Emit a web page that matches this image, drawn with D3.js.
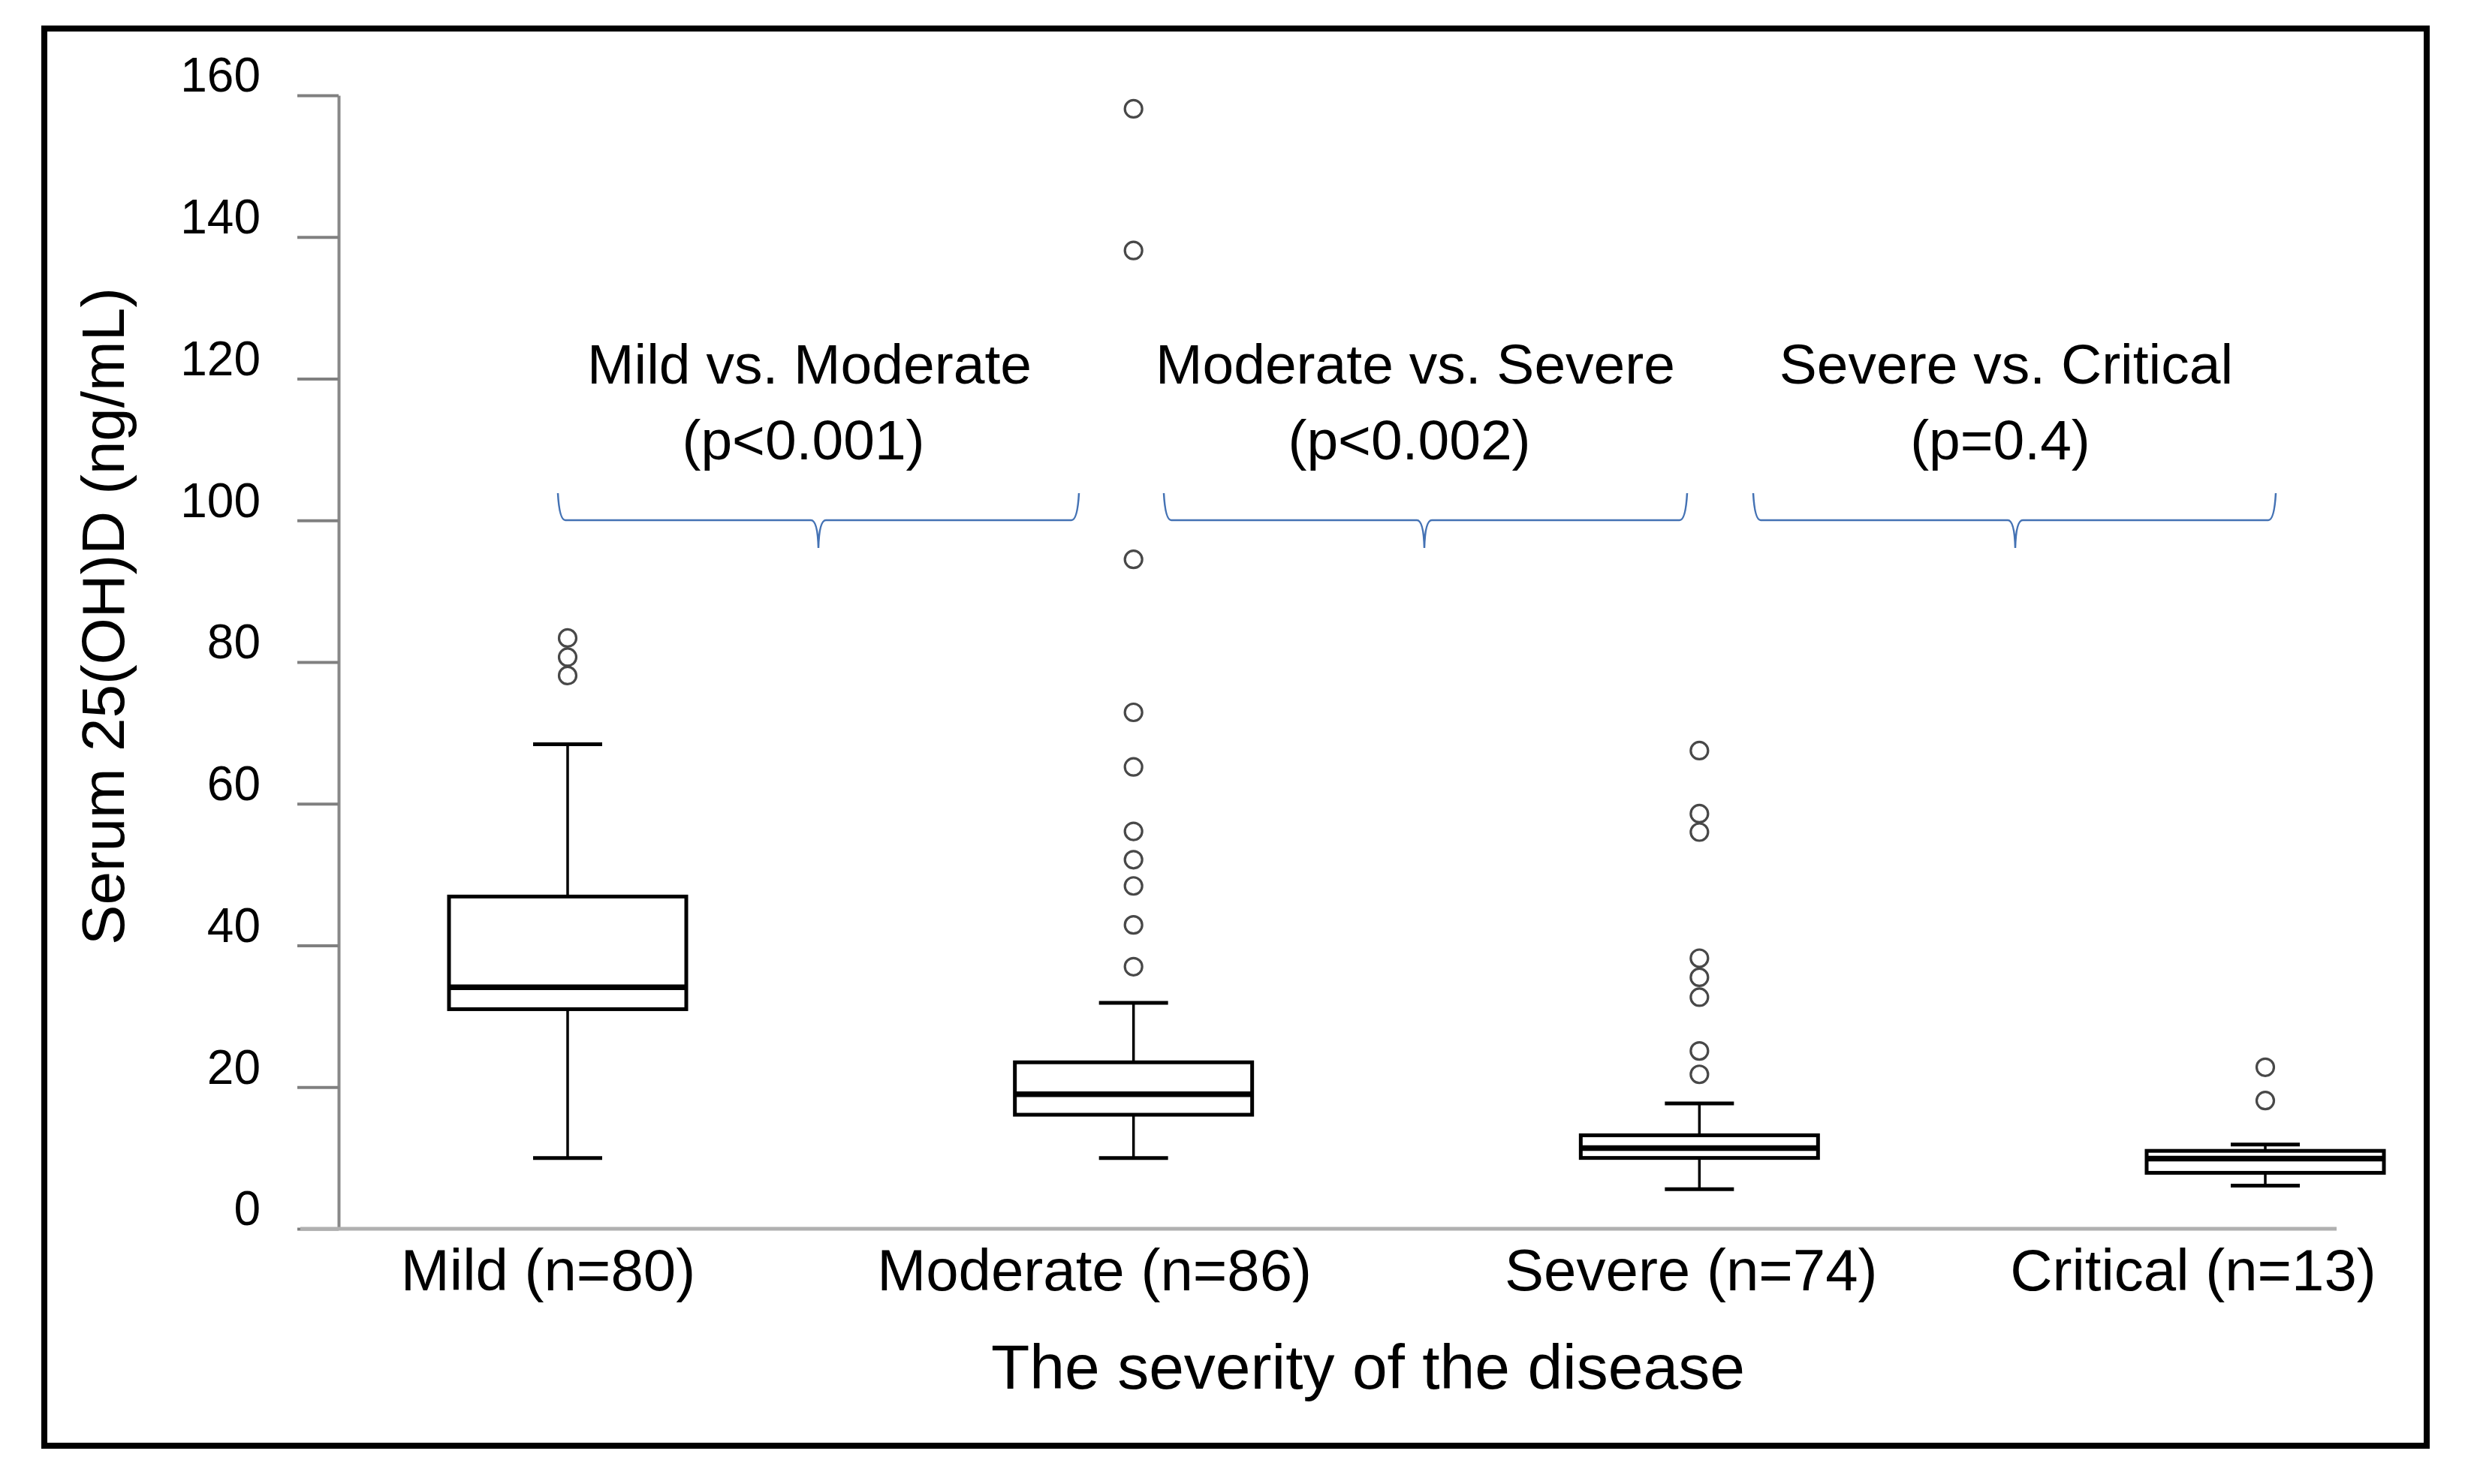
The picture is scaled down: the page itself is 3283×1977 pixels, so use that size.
<!DOCTYPE html>
<html>
<head>
<meta charset="utf-8">
<script src="https://cdn.jsdelivr.net/npm/d3@7"></script>
<style>
  html, body { margin: 0; padding: 0; background: #fff; }
  svg text { font-family: "Liberation Sans", Arial, Helvetica, sans-serif; fill: #000; }
</style>
</head>
<body>
<svg id="chart" width="3283" height="1977"></svg>
<script>
// values (ng/mL)
var categories = ['Mild', 'Moderate', 'Severe', 'Critical'];
var counts = [80, 86, 74, 13];
var whiskerLow = [10, 10, 5.6, 6.1];
var q1 = [31, 16.1, 10.0, 7.9];
var median = [34.1, 19.0, 11.4, 9.9];
var q3 = [46.9, 23.5, 13.2, 11.0];
var whiskerHigh = [68.4, 31.9, 17.7, 11.9];
var outliers = [
  [83.4, 80.7, 78.1],
  [158.1, 138.1, 94.5, 72.9, 65.2, 56.1, 52.1, 48.4, 42.9, 37.0],
  [67.5, 58.6, 56.0, 38.2, 35.5, 32.7, 25.1, 21.8],
  [22.8, 18.1]
];
var yTicks = [0, 20, 40, 60, 80, 100, 120, 140, 160];
var comparisons = ['Mild vs. Moderate', 'Moderate vs. Severe', 'Severe vs. Critical'];
var pValues = ['(p<0.001)', '(p<0.002)', '(p=0.4)'];

var svg = d3.select('#chart');

var BOX_W = 316, CAP_W = 92;
var labelShift = [-26, -52, -11, -96];

var y = d3.scaleLinear().domain([0, 160]).range([1637, 127]);
var x = d3.scalePoint().domain(categories).range([756, 3017]);

// outer frame
svg.append('rect')
  .attr('x', 59).attr('y', 38)
  .attr('width', 3232 - 59).attr('height', 1926 - 38)
  .attr('fill', '#fff')
  .attr('stroke', '#000')
  .attr('stroke-width', 8);

// y axis
var yAxis = svg.append('g')
  .attr('transform', 'translate(451,0)')
  .call(d3.axisLeft(y).tickValues(yTicks).tickSize(55).tickPadding(49).tickSizeOuter(0));
yAxis.select('.domain').attr('stroke', '#888').attr('stroke-width', 4);
yAxis.selectAll('.tick line').attr('stroke', '#808080').attr('stroke-width', 4);
yAxis.selectAll('.tick text')
  .attr('font-size', 64)
  .attr('dy', '-0.08em')
  .attr('fill', '#000');

// x axis line
svg.append('line')
  .attr('x1', 400).attr('x2', 3112)
  .attr('y1', y(0)).attr('y2', y(0))
  .attr('stroke', '#b0b0b0')
  .attr('stroke-width', 5);

// category labels
svg.append('g').selectAll('text')
  .data(categories)
  .join('text')
  .attr('x', function (d, i) { return x(d) + labelShift[i]; })
  .attr('y', 1719)
  .attr('text-anchor', 'middle')
  .attr('font-size', 78)
  .text(function (d, i) { return d + ' (n=' + counts[i] + ')'; });

// axis titles
svg.append('text')
  .attr('x', 1822).attr('y', 1850)
  .attr('text-anchor', 'middle')
  .attr('font-size', 84)
  .text('The severity of the disease');

svg.append('text')
  .attr('transform', 'translate(165,821) rotate(-90)')
  .attr('text-anchor', 'middle')
  .attr('font-size', 80)
  .text('Serum 25(OH)D (ng/mL)');

// boxes
var box = svg.append('g').selectAll('g')
  .data(categories)
  .join('g');

box.append('line')
  .attr('x1', function (d) { return x(d); })
  .attr('x2', function (d) { return x(d); })
  .attr('y1', function (d, i) { return y(whiskerLow[i]); })
  .attr('y2', function (d, i) { return y(q1[i]); })
  .attr('stroke', '#000').attr('stroke-width', 3.5);

box.append('line')
  .attr('x1', function (d) { return x(d); })
  .attr('x2', function (d) { return x(d); })
  .attr('y1', function (d, i) { return y(q3[i]); })
  .attr('y2', function (d, i) { return y(whiskerHigh[i]); })
  .attr('stroke', '#000').attr('stroke-width', 3.5);

[whiskerLow, whiskerHigh].forEach(function (arr) {
  box.append('line')
    .attr('x1', function (d) { return x(d) - CAP_W / 2; })
    .attr('x2', function (d) { return x(d) + CAP_W / 2; })
    .attr('y1', function (d, i) { return y(arr[i]); })
    .attr('y2', function (d, i) { return y(arr[i]); })
    .attr('stroke', '#000').attr('stroke-width', 5);
});

box.append('rect')
  .attr('x', function (d) { return x(d) - BOX_W / 2; })
  .attr('y', function (d, i) { return y(q3[i]); })
  .attr('width', BOX_W)
  .attr('height', function (d, i) { return y(q1[i]) - y(q3[i]); })
  .attr('fill', '#fff')
  .attr('stroke', '#000')
  .attr('stroke-width', 5);

box.append('line')
  .attr('x1', function (d) { return x(d) - BOX_W / 2; })
  .attr('x2', function (d) { return x(d) + BOX_W / 2; })
  .attr('y1', function (d, i) { return y(median[i]); })
  .attr('y2', function (d, i) { return y(median[i]); })
  .attr('stroke', '#000').attr('stroke-width', 7.5);

// outliers
box.each(function (d, i) {
  d3.select(this).selectAll('circle')
    .data(outliers[i])
    .join('circle')
    .attr('cx', x(d))
    .attr('cy', function (v) { return y(v); })
    .attr('r', 11.5)
    .attr('fill', 'none')
    .attr('stroke', '#484848')
    .attr('stroke-width', 3.2);
});

// comparison braces
var braces = [
  { x0: 743, x1: 1437, cx: 1090 },
  { x0: 1550, x1: 2247, cx: 1897 },
  { x0: 2335, x1: 3031, cx: 2684 }
];
var TOP = 657, LINE = 693, TIP = 730;

function bracePath(b) {
  var p = d3.path();
  p.moveTo(b.x0, TOP);
  p.quadraticCurveTo(b.x0 + 2, LINE, b.x0 + 10, LINE);
  p.lineTo(b.cx - 10, LINE);
  p.quadraticCurveTo(b.cx - 1, LINE, b.cx, TIP);
  p.quadraticCurveTo(b.cx + 1, LINE, b.cx + 10, LINE);
  p.lineTo(b.x1 - 10, LINE);
  p.quadraticCurveTo(b.x1 - 2, LINE, b.x1, TOP);
  return p.toString();
}

var ann = svg.append('g').selectAll('g')
  .data(comparisons)
  .join('g');

ann.append('path')
  .attr('d', function (d, i) { return bracePath(braces[i]); })
  .attr('fill', 'none')
  .attr('stroke', '#4472b4')
  .attr('stroke-width', 2.5);

ann.append('text')
  .attr('x', function (d, i) { return braces[i].cx - 12; })
  .attr('y', 511)
  .attr('text-anchor', 'middle')
  .attr('font-size', 75)
  .text(function (d) { return d; });

ann.append('text')
  .attr('x', function (d, i) { return braces[i].cx - 20; })
  .attr('y', 612)
  .attr('text-anchor', 'middle')
  .attr('font-size', 75)
  .text(function (d, i) { return pValues[i]; });
</script>
</body>
</html>
